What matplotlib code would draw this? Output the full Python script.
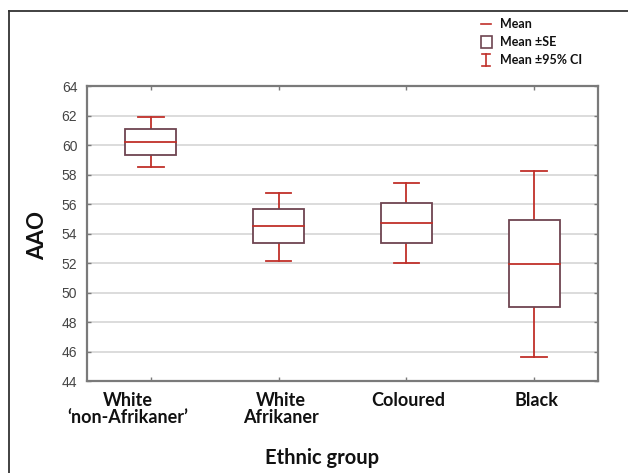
import matplotlib.pyplot as plt
from matplotlib.lines import Line2D
from matplotlib.patches import Rectangle
from matplotlib import font_manager

groups = ["White\n\u2018non-Afrikaner\u2019", "White\nAfrikaner", "Coloured", "Black"]
means = [60.2, 54.49, 54.73, 51.91]
se_low = [59.32, 53.33, 53.33, 49.0]
se_high = [61.06, 55.64, 56.09, 54.92]
ci_low = [58.53, 52.16, 51.98, 45.65]
ci_high = [61.92, 56.77, 57.44, 58.24]
yticks = [44, 46, 48, 50, 52, 54, 56, 58, 60, 62, 64]

names = {f.name for f in font_manager.fontManager.ttflist}
tick_font = "Liberation Sans Narrow" if "Liberation Sans Narrow" in names else "Liberation Sans"
bold_font = "Lato"

box_col = "#6e4450"
red = "#c0302a"
spine_col = "#7a7a7a"

W, H = 628, 473
fig = plt.figure(figsize=(6.28, 4.73), dpi=100)
ax = fig.add_axes([87 / W, 1 - 381 / H, (598 - 87) / W, (381 - 86) / H])

box_w = 0.4
cap_w = 0.2
for i, m in enumerate(means):
    x = i + 1
    # whiskers (95% CI)
    ax.plot([x, x], [ci_low[i], se_low[i]], color=red, lw=1.3, zorder=3)
    ax.plot([x, x], [se_high[i], ci_high[i]], color=red, lw=1.3, zorder=3)
    ax.plot([x - cap_w / 2, x + cap_w / 2], [ci_low[i], ci_low[i]], color=red, lw=1.3, zorder=3)
    ax.plot([x - cap_w / 2, x + cap_w / 2], [ci_high[i], ci_high[i]], color=red, lw=1.3, zorder=3)
    # box (SE)
    ax.add_patch(Rectangle((x - box_w / 2, se_low[i]), box_w, se_high[i] - se_low[i],
                           facecolor="white", edgecolor=box_col, lw=1.3, zorder=4))
    # mean
    ax.plot([x - box_w / 2, x + box_w / 2], [m, m], color=red, lw=1.3, zorder=5)

ax.set_xlim(0.5, 4.5)
ax.set_ylim(44, 64)
ax.set_yticks(yticks)
ax.set_yticklabels([str(t) for t in yticks], fontsize=10, color="#444444", family=tick_font)
ax.set_xticks([1, 2, 3, 4])
ax.set_xticklabels([])
ax.tick_params(axis="both", direction="in", length=3, width=1, color=spine_col,
               top=True, right=True, pad=7)
ax.yaxis.grid(True, color="#d9d9d9", lw=1.3)
ax.set_axisbelow(True)
for s in ax.spines.values():
    s.set_color(spine_col)
    s.set_linewidth(1.6)

# category labels
label_dx = [-23, 2, 2, 2]
for i, g in enumerate(groups):
    ax.annotate(g, xy=(i + 1, 0), xycoords=("data", "axes fraction"),
                xytext=(label_dx[i], -11), textcoords="offset pixels",
                ha="center", va="top", fontsize=13, fontweight="bold",
                family=bold_font, color="#111111", linespacing=1.0)

fig.text(322 / W, 1 - 458 / H, "Ethnic group", ha="center", va="center",
         fontsize=14.5, fontweight="bold", family=bold_font, color="#111111")
fig.text(38 / W, 1 - 235 / H, "AAO", ha="center", va="center", rotation=90,
         fontsize=16, fontweight="bold", family=bold_font, color="#111111")

# legend
def fx(px):
    return px / W

def fy(py):
    return 1 - py / H

fig.add_artist(Line2D([fx(481), fx(491)], [fy(24), fy(24)], color=red, lw=1.2))
fig.add_artist(Rectangle((fx(481), fy(48)), 11 / W, 12 / H, facecolor="white",
                         edgecolor=box_col, lw=1.2))
fig.add_artist(Line2D([fx(486), fx(486)], [fy(54), fy(66)], color=red, lw=1.2))
fig.add_artist(Line2D([fx(482), fx(490)], [fy(54), fy(54)], color=red, lw=1.2))
fig.add_artist(Line2D([fx(482), fx(490)], [fy(66), fy(66)], color=red, lw=1.2))
for t, py in [("Mean", 24), ("Mean \u00b1SE", 42), ("Mean \u00b195% CI", 60)]:
    fig.text(fx(500), fy(py), t, ha="left", va="center", fontsize=9,
             fontweight="bold", family=bold_font, color="#111111")

# outer frame lines
fig.add_artist(Line2D([fx(9), fx(628)], [fy(11), fy(11)], color="#333333", lw=1.3))
fig.add_artist(Line2D([fx(9), fx(9)], [fy(11), fy(473)], color="#333333", lw=1.3))

fig.savefig("out.png", dpi=100)
